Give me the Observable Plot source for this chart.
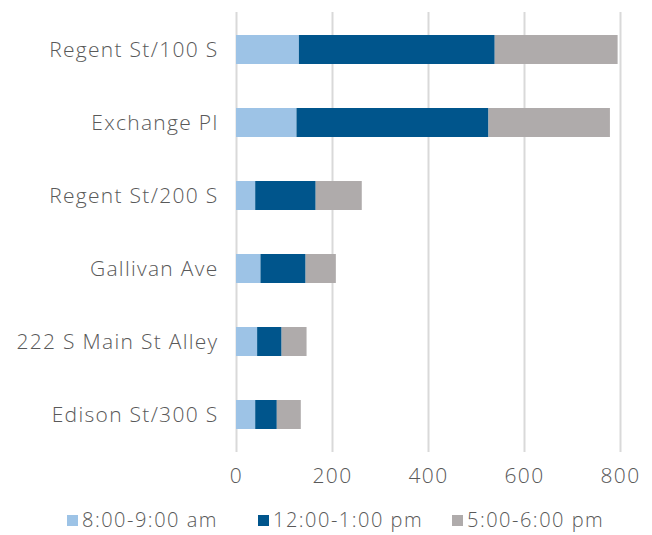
<!DOCTYPE html>
<html>
<head>
<meta charset="utf-8">
<script src="https://cdn.jsdelivr.net/npm/d3@7"></script>
<script src="https://cdn.jsdelivr.net/npm/@observablehq/plot@0.6"></script>
<style>
  html, body { margin: 0; padding: 0; background: #fff; }
  body { width: 652px; height: 535px; overflow: hidden; font-family: "Open Sans", sans-serif; font-weight: 300; position: relative; }
  #legend { position: absolute; left: 0; top: 509px; width: 652px; height: 22px; font-size: 20px; line-height: 22px; letter-spacing: 1.5px; color: #595959; }
  #legend .item { position: absolute; top: 0; display: flex; align-items: center; gap: 4px; height: 22px; white-space: nowrap; }
  #legend .sw { width: 11px; height: 11px; display: inline-block; flex: none; }
  svg text { letter-spacing: 1.3px; }
</style>
</head>
<body>
<div id="chart"></div>
<div id="legend"></div>
<script>
const locations = ["Regent St/100 S", "Exchange Pl", "Regent St/200 S", "Gallivan Ave", "222 S Main St Alley", "Edison St/300 S"];
const periods = ["8:00-9:00 am", "12:00-1:00 pm", "5:00-6:00 pm"];
const morning = [131, 126, 40, 51, 44, 40];
const midday = [408, 400, 126, 94, 51, 45];
const evening = [256, 253, 96, 63, 52, 50];
const xTicks = [0, 200, 400, 600, 800];
const colors = ["#9DC3E6", "#00558C", "#AFABAB"];

const series = [morning, midday, evening];
const data = [];
periods.forEach((p, j) => {
  locations.forEach((loc, i) => data.push({location: loc, period: p, value: series[j][i]}));
});

const chart = Plot.plot({
  width: 652,
  height: 500,
  marginTop: 12,
  marginBottom: 48,
  marginLeft: 236,
  marginRight: 32,
  style: {fontFamily: "'Open Sans', sans-serif", fontSize: "21px", fontWeight: 300, color: "#595959", background: "#fff"},
  x: {domain: [0, 800], ticks: xTicks, tickSize: 0, tickPadding: 16, label: null},
  y: {domain: locations, paddingInner: 0.6, paddingOuter: 0.3, tickSize: 0, tickPadding: 18, label: null},
  color: {domain: periods, range: colors},
  marks: [
    Plot.ruleX(xTicks, {stroke: "#d9d9d9", strokeWidth: 2, strokeOpacity: 1}),
    Plot.barX(data, Plot.stackX({x: "value", y: "location", fill: "period", order: periods}))
  ]
});
document.getElementById("chart").appendChild(chart);

const legendLeft = [67, 258, 452];
const legend = document.getElementById("legend");
periods.forEach((p, j) => {
  const item = document.createElement("div");
  item.className = "item";
  item.style.left = legendLeft[j] + "px";
  const sw = document.createElement("span");
  sw.className = "sw";
  sw.style.background = colors[j];
  const t = document.createElement("span");
  t.textContent = p;
  item.appendChild(sw);
  item.appendChild(t);
  legend.appendChild(item);
});
</script>
</body>
</html>
